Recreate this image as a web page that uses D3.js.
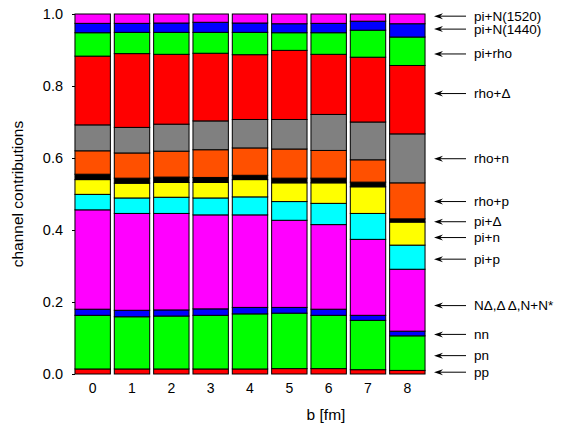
<!DOCTYPE html>
<html lang="en">
<head>
<meta charset="utf-8">
<title>channel contributions</title>
<script src="https://d3js.org/d3.v7.min.js"></script>
<style>
body { margin: 0; background: #fff; }
text { font-family: "Liberation Sans", Arial, Helvetica, sans-serif; }
</style>
</head>
<body>
<div id="chart"></div>
<script>
// impact parameter bins
var bValues = [0, 1, 2, 3, 4, 5, 6, 7, 8];

// channel fractions per b, bottom to top
var pp       = [0.014, 0.014, 0.014, 0.014, 0.014, 0.015, 0.015, 0.012, 0.010];
var pn       = [0.149, 0.145, 0.147, 0.149, 0.153, 0.154, 0.148, 0.137, 0.096];
var nn       = [0.017, 0.018, 0.017, 0.018, 0.018, 0.016, 0.017, 0.014, 0.013];
var nDelta   = [0.276, 0.269, 0.268, 0.261, 0.257, 0.242, 0.235, 0.211, 0.172];
var piP      = [0.043, 0.043, 0.045, 0.047, 0.050, 0.052, 0.059, 0.072, 0.067];
var piN      = [0.041, 0.041, 0.041, 0.043, 0.048, 0.052, 0.057, 0.074, 0.064];
var piDelta  = [0.015, 0.014, 0.015, 0.014, 0.012, 0.013, 0.013, 0.013, 0.009];
var rhoP     = [0.065, 0.070, 0.072, 0.077, 0.076, 0.081, 0.077, 0.062, 0.100];
var rhoN     = [0.072, 0.071, 0.075, 0.080, 0.079, 0.082, 0.100, 0.105, 0.136];
var rhoDelta = [0.191, 0.205, 0.194, 0.188, 0.180, 0.192, 0.167, 0.180, 0.190];
var piRho    = [0.065, 0.059, 0.061, 0.058, 0.062, 0.049, 0.060, 0.075, 0.079];
var piN1440  = [0.026, 0.025, 0.026, 0.028, 0.026, 0.025, 0.026, 0.025, 0.037];
var piN1520  = [0.026, 0.026, 0.025, 0.023, 0.025, 0.027, 0.026, 0.020, 0.027];

var channelNames = ["pp", "pn", "nn", "N\u0394,\u0394 \u0394,N+N*", "pi+p", "pi+n", "pi+\u0394",
                    "rho+p", "rho+n", "rho+\u0394", "pi+rho", "pi+N(1440)", "pi+N(1520)"];
var channelValues = [pp, pn, nn, nDelta, piP, piN, piDelta, rhoP, rhoN, rhoDelta, piRho, piN1440, piN1520];
var channelColors = ["#ff0000", "#00ff00", "#0000ff", "#ff00ff", "#00ffff", "#ffff00", "#000000",
                     "#ff5000", "#808080", "#ff0000", "#00ff00", "#0000ff", "#ff00ff"];
// where each label arrow sits (in y units)
var labelY = [0.005, 0.051, 0.110, 0.190, 0.319, 0.379, 0.423, 0.479, 0.598, 0.779, 0.889, 0.958, 0.994];

var yTicks = [0, 0.2, 0.4, 0.6, 0.8, 1.0];

var W = 576, H = 430;
var margin = {top: 14, right: 150, bottom: 56, left: 75};

var svg = d3.select("#chart").append("svg")
  .attr("width", W)
  .attr("height", H);

// rows for d3.stack
var rows = bValues.map(function(b, i) {
  var r = {b: b};
  channelNames.forEach(function(c, j) { r[c] = channelValues[j][i]; });
  return r;
});

var series = d3.stack().keys(channelNames)(rows);

var x = d3.scaleBand()
  .domain(bValues)
  .range([73, 427])
  .paddingInner(0.1)
  .paddingOuter(0.05);

var y = d3.scaleLinear()
  .domain([0, 1])
  .range([H - margin.bottom, margin.top]);

// bars
svg.append("g")
  .selectAll("g")
  .data(series)
  .enter()
  .append("g")
    .attr("fill", function(d, i) { return channelColors[i]; })
  .selectAll("rect")
  .data(function(d) { return d; })
  .enter()
  .append("rect")
    .attr("x", function(d) { return x(d.data.b); })
    .attr("y", function(d) { return y(d[1]); })
    .attr("width", x.bandwidth())
    .attr("height", function(d) { return y(d[0]) - y(d[1]); })
    .attr("stroke", "#000")
    .attr("stroke-width", 1);

// y axis
var yAxis = svg.append("g")
  .attr("transform", "translate(" + margin.left + ",0)")
  .call(d3.axisLeft(y).tickValues(yTicks).tickFormat(d3.format(".1f")).tickSize(3).tickPadding(9));
yAxis.select(".domain").remove();
yAxis.selectAll("text").attr("font-size", 14.5).attr("fill", "#000")
  .style("font-family", "'Liberation Sans', Arial, sans-serif");

// x axis (labels only)
var xAxis = svg.append("g")
  .attr("transform", "translate(0," + (H - margin.bottom) + ")")
  .call(d3.axisBottom(x).tickSize(0).tickPadding(9));
xAxis.select(".domain").remove();
xAxis.selectAll("text").attr("font-size", 14).attr("fill", "#000")
  .style("font-family", "'Liberation Sans', Arial, sans-serif");

// axis titles
svg.append("text")
  .attr("transform", "translate(23," + ((margin.top + H - margin.bottom) / 2) + ") rotate(-90)")
  .attr("text-anchor", "middle")
  .attr("font-size", 15.5)
  .text("channel contributions");

svg.append("text")
  .attr("x", 326)
  .attr("y", 420)
  .attr("text-anchor", "middle")
  .attr("font-size", 15.5)
  .text("b [fm]");

// label arrows
var labels = svg.append("g")
  .selectAll("g")
  .data(channelNames)
  .enter()
  .append("g")
    .attr("transform", function(d, i) { return "translate(0," + y(labelY[i]) + ")"; });

labels.append("line")
  .attr("x1", 438).attr("x2", 466)
  .attr("stroke", "#000")
  .attr("stroke-width", 1);

labels.append("path")
  .attr("d", "M434,0 L443,-3 L440,0 L443,3 Z")
  .attr("fill", "#000");

labels.append("text")
  .attr("x", 474)
  .attr("dy", "0.33em")
  .attr("font-size", 13.5)
  .text(function(d) { return d; });
</script>
</body>
</html>
